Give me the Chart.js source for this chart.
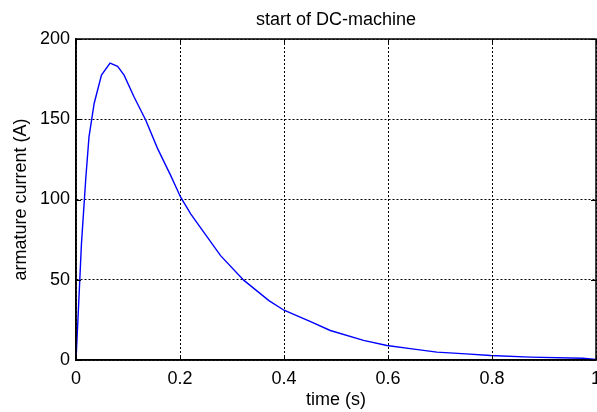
<!DOCTYPE html>
<html>
<head>
<meta charset="utf-8">
<script src="https://cdn.jsdelivr.net/npm/chart.js@4"></script>
<style>
  html, body { margin: 0; padding: 0; background: #fff; }
  #wrap { width: 597px; height: 412px; position: relative; }
</style>
</head>
<body>
<div id="wrap"><canvas id="c" width="597" height="412"></canvas></div>
<script>
const chartTitle = 'start of DC-machine';
const xTitle = 'time (s)';
const yTitle = 'armature current (A)';
const timeS = [0, 0.004, 0.0105, 0.019, 0.025, 0.035, 0.049, 0.0655, 0.08, 0.0925, 0.1115, 0.134, 0.1565, 0.182, 0.201, 0.2205, 0.278, 0.323, 0.371, 0.4, 0.45, 0.489, 0.553, 0.598, 0.65, 0.694, 0.75, 0.797, 0.874, 0.975, 1.0];
const currentA = [0, 27, 72.5, 114, 139, 160, 177.5, 185, 183, 177.5, 164, 149.5, 132, 115, 101.6, 91, 65, 49.6, 37, 31, 24, 18.4, 12.2, 9, 6.8, 4.9, 3.8, 2.8, 1.8, 1.1, 0.3];
const xTickValues = [0, 0.2, 0.4, 0.6, 0.8, 1];
const xTickLabels = ['0', '0.2', '0.4', '0.6', '0.8', '1'];
const yTickValues = [0, 50, 100, 150, 200];
const yTickLabels = ['0', '50', '100', '150', '200'];

const points = timeS.map((t, i) => ({ x: t, y: currentA[i] }));
const FONT = "'Liberation Sans', Arial, sans-serif";

const boxPlugin = {
  id: 'matlabBox',
  afterDraw(chart) {
    const { ctx, chartArea: a, scales } = chart;
    ctx.save();
    ctx.strokeStyle = '#000';
    ctx.lineWidth = 1;
    ctx.setLineDash([]);
    const tl = 5;
    ctx.beginPath();
    scales.x.ticks.forEach(t => {
      const px = Math.round(scales.x.getPixelForValue(t.value)) + 0.5;
      ctx.moveTo(px, a.bottom); ctx.lineTo(px, a.bottom - tl);
      ctx.moveTo(px, a.top); ctx.lineTo(px, a.top + tl);
    });
    scales.y.ticks.forEach(t => {
      const py = Math.round(scales.y.getPixelForValue(t.value)) + 0.5;
      ctx.moveTo(a.left, py); ctx.lineTo(a.left + tl, py);
      ctx.moveTo(a.right, py); ctx.lineTo(a.right - tl, py);
    });
    ctx.stroke();
    ctx.lineWidth = 1.5;
    ctx.strokeRect(a.left, a.top, a.right - a.left, a.bottom - a.top);
    ctx.restore();
  }
};

new Chart(document.getElementById('c'), {
  type: 'line',
  data: {
    datasets: [{
      data: points,
      borderColor: '#0000ff',
      borderWidth: 1.4,
      pointRadius: 0,
      tension: 0,
      fill: false
    }]
  },
  options: {
    responsive: false,
    animation: false,
    layout: { padding: { left: 0, right: 1, top: 0, bottom: 0 } },
    plugins: {
      legend: { display: false },
      tooltip: { enabled: false },
      title: {
        display: true,
        fullSize: false,
        text: chartTitle,
        color: '#000',
        font: { family: FONT, size: 18, weight: 'normal' },
        padding: { top: 9, bottom: 8.4 }
      }
    },
    scales: {
      x: {
        type: 'linear',
        min: 0, max: 1,
        afterBuildTicks: s => { s.ticks = xTickValues.map(v => ({ value: v })); },
        afterFit: s => { s.height = 52; s.paddingLeft = 0; s.paddingRight = 0; },
        ticks: {
          color: '#000',
          font: { family: FONT, size: 18 },
          padding: 8,
          maxRotation: 0,
          autoSkip: false,
          callback: (v, i) => xTickLabels[i]
        },
        grid: { color: '#000', lineWidth: 1, drawTicks: false },
        border: { display: true, color: '#000', width: 1.5, dash: [2, 2] },
        title: {
          display: true, text: xTitle, color: '#000',
          font: { family: FONT, size: 18 },
          padding: { top: 0, bottom: 1 }
        }
      },
      y: {
        type: 'linear',
        min: 0, max: 200,
        afterBuildTicks: s => { s.ticks = yTickValues.map(v => ({ value: v })); },
        afterFit: s => { s.width = 76; s.paddingTop = 0; s.paddingBottom = 0; },
        ticks: {
          color: '#000',
          font: { family: FONT, size: 18 },
          padding: 6,
          autoSkip: false,
          callback: (v, i) => yTickLabels[i]
        },
        grid: { color: '#000', lineWidth: 1, drawTicks: false },
        border: { display: true, color: '#000', width: 1.5, dash: [2, 2] },
        title: {
          display: true, text: yTitle, color: '#000',
          font: { family: FONT, size: 18 },
          padding: { top: 10, bottom: 0 }
        }
      }
    }
  },
  plugins: [boxPlugin]
});
</script>
</body>
</html>
